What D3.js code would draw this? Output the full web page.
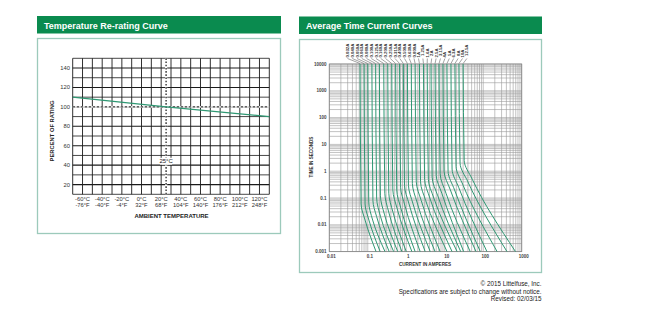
<!DOCTYPE html>
<html><head><meta charset="utf-8">
<script src="https://cdn.jsdelivr.net/npm/d3@7"></script>
<style>
html,body{margin:0;padding:0;background:#fff;}
svg{display:block;}
text{font-family:"Liberation Sans",Arial,sans-serif;}
.nar{font-family:"Liberation Sans Narrow","Arial Narrow","Liberation Sans",sans-serif;}
</style></head>
<body>
<svg id="c" width="654" height="325"></svg>
<script>
// ---------- Data: Temperature re-rating curve ----------
const tempTicks = [-60,-40,-20,0,20,40,60,80,100,120];
const tempCLabels = ["-60°C","-40°C","-20°C","0°C","20°C","40°C","60°C","80°C","100°C","120°C"];
const tempFLabels = ["-76°F","-40°F","-4°F","32°F","68°F","104°F","140°F","176°F","212°F","248°F"];
const pctTicks = [20,40,60,80,100,120,140];
const rerateTemp = [-70, 25, 130];
const reratePct  = [110, 100, 90];

// ---------- Data: Average time current curves ----------
const ratingLabels = ["0.032A","0.040A","0.050A","0.063A","0.080A","0.100A","0.125A","0.160A","0.200A","0.250A","0.315A","0.400A","0.500A","0.630A","0.800A",
  "1A","1.25A","1.6A","2A","2.5A","3.15A","4A","5A","6.3A","8A","10A","12.5A"];
// current (A) at 10000 s
const topCurrent  = [0.063,0.08,0.1,0.128,0.16,0.2,0.26,0.33,0.42,0.53,0.67,0.84,1.07,1.35,1.7,2.2,2.8,3.5,4.4,5.6,7.1,9,11.4,14.5,18.4,23.4,30];
// start of knee: time (s) and current (A)
const kneeTime    = [0.06,0.06,0.07,0.08,0.1,0.12,0.15,0.15,0.2,0.2,0.25,0.3,0.3,0.35,0.4,0.4,0.5,0.5,0.6,0.7,0.8,1,1,1.2,1.5,2,2.5];
const kneeCurrent = [0.067,0.085,0.106,0.136,0.17,0.213,0.277,0.352,0.448,0.565,0.715,0.9,1.14,1.44,1.82,2.35,3.0,3.75,4.7,6.0,7.6,9.6,12.2,15.5,19.7,25,32];
// end of knee: time (s) and current (A)
const bendTime    = [0.015,0.015,0.015,0.02,0.02,0.025,0.03,0.03,0.04,0.04,0.05,0.06,0.06,0.07,0.08,0.08,0.1,0.1,0.12,0.15,0.15,0.2,0.2,0.25,0.3,0.4,0.5];
const bendCurrent = [0.085,0.107,0.134,0.17,0.215,0.27,0.35,0.45,0.58,0.73,0.93,1.18,1.5,1.9,2.45,3.2,4.1,5.2,6.6,8.4,10.8,14,18,23,30,40,52];
// current (A) at 0.001 s
const endCurrent  = [0.164,0.21,0.28,0.36,0.47,0.6,0.77,1.0,1.4,1.7,2.3,3.1,4.2,5.6,7.6,11.5,15.5,21,26,31,46,65,84,125,230,415,690];
const yTimeTicks = [10000,1000,100,10,1,0.1,0.01,0.001];
const yTimeLabels = ["10000","1000","100","10","1","0.1","0.01","0.001"];
const xCurTicks = [0.01,0.1,1,10,100,1000];
const xCurLabels = ["0.01","0.1","1","10","100","1000"];

const footer = ["© 2015 Littelfuse, Inc.","Specifications are subject to change without notice.","Revised: 02/03/15"];

// ---------- Drawing ----------
const svg = d3.select("#c");
const GREEN = "#0a8b4f", BORDER = "#9ccabb", CURVE = "#2f9873";

function panel(x, y, w, title){
  svg.append("rect").attr("x",x).attr("y",y).attr("width",w).attr("height",17.5).attr("fill",GREEN);
  svg.append("text").attr("x",x+7).attr("y",y+12.5).attr("fill","#fff")
    .attr("font-size","9px").attr("font-weight","bold").text(title);
}
panel(37,16,244,"Temperature Re-rating Curve");
panel(299,16.5,243,"Average Time Current Curves");
svg.append("rect").attr("x",37.5).attr("y",38.5).attr("width",243).attr("height",195)
  .attr("fill","none").attr("stroke",BORDER).attr("stroke-width",1.3);
svg.append("rect").attr("x",299.5).attr("y",39.5).attr("width",242).attr("height",233)
  .attr("fill","none").attr("stroke",BORDER).attr("stroke-width",1.3);

// ----- Left chart -----
const xT = d3.scaleLinear().domain([-70,130]).range([72.7,269.3]);
const yP = d3.scaleLinear().domain([10,150]).range([194.3,58.3]);
const gL = svg.append("g");
const vGrid = d3.range(-70,131,10), hGrid = d3.range(10,151,10);
gL.selectAll(".vg").data(vGrid).join("line")
  .attr("x1",d=>xT(d)).attr("x2",d=>xT(d)).attr("y1",yP(10)).attr("y2",yP(150))
  .attr("stroke","#1a1a1a").attr("stroke-width",0.9);
gL.selectAll(".hg").data(hGrid).join("line")
  .attr("y1",d=>yP(d)).attr("y2",d=>yP(d)).attr("x1",xT(-70)).attr("x2",xT(130))
  .attr("stroke","#1a1a1a").attr("stroke-width",d=>d%20===0?1.1:0.8);
// dashed reference lines
gL.append("line").attr("x1",xT(-70)).attr("x2",xT(130)).attr("y1",yP(100)).attr("y2",yP(100))
  .attr("stroke","#fff").attr("stroke-width",1.6);
gL.append("line").attr("x1",xT(-70)).attr("x2",xT(130)).attr("y1",yP(100)).attr("y2",yP(100))
  .attr("stroke","#111").attr("stroke-width",1).attr("stroke-dasharray","2.5,1.5");
gL.append("line").attr("x1",xT(25)).attr("x2",xT(25)).attr("y1",yP(10)).attr("y2",yP(150))
  .attr("stroke","#fff").attr("stroke-width",2.2);
gL.append("line").attr("x1",xT(25)).attr("x2",xT(25)).attr("y1",yP(10)).attr("y2",yP(150))
  .attr("stroke","#111").attr("stroke-width",1.2).attr("stroke-dasharray","1.6,1.6");
// derating line
const rer = rerateTemp.map((t,i)=>[t,reratePct[i]]);
gL.append("path").datum(rer).attr("fill","none").attr("stroke",CURVE).attr("stroke-width",1.2)
  .attr("d",d3.line().x(d=>xT(d[0])).y(d=>yP(d[1])));
// 25°C label
gL.append("rect").attr("x",xT(25)-6).attr("y",yP(44)-3.5).attr("width",12).attr("height",7).attr("fill","#fff");
gL.append("text").attr("class","nar").attr("x",xT(25)).attr("y",yP(44)).attr("dy","0.35em")
  .attr("text-anchor","middle").attr("font-size","6px").attr("fill","#222").text("25°C");
// tick labels
gL.selectAll(".yl").data(pctTicks).join("text").attr("class","nar")
  .attr("x",70).attr("y",d=>yP(d)).attr("dy","0.35em").attr("text-anchor","end")
  .attr("font-size","5.8px").attr("fill","#333").text(d=>d);
gL.selectAll(".xc").data(tempTicks).join("text").attr("class","nar")
  .attr("x",d=>xT(d)).attr("y",200.5).attr("text-anchor","middle")
  .attr("font-size","5.8px").attr("fill","#333").text((d,i)=>tempCLabels[i]);
gL.selectAll(".xf").data(tempTicks).join("text").attr("class","nar")
  .attr("x",d=>xT(d)).attr("y",206.5).attr("text-anchor","middle")
  .attr("font-size","5.8px").attr("fill","#333").text((d,i)=>tempFLabels[i]);
gL.append("text").attr("transform","translate(54,131) rotate(-90)").attr("text-anchor","middle")
  .attr("font-size","5.8px").attr("font-weight","bold").attr("fill","#222").text("PERCENT OF RATING");
gL.append("text").attr("x",171.5).attr("y",217.5).attr("text-anchor","middle")
  .attr("font-size","6px").attr("font-weight","bold").attr("fill","#222").text("AMBIENT TEMPERATURE");

// ----- Right chart -----
const xI = d3.scaleLog().domain([0.01,1000]).range([329.3,521.7]);
const yS = d3.scaleLog().domain([0.001,10000]).range([251.6,64]);
const gR = svg.append("g");
const xMinor = [], yMinor = [];
for (let e=-2;e<3;e++) for (let k=1;k<10;k++) xMinor.push(k*Math.pow(10,e));
xMinor.push(1000);
for (let e=-3;e<4;e++) for (let k=1;k<10;k++) yMinor.push(k*Math.pow(10,e));
yMinor.push(10000);
gR.selectAll(".gx").data(xMinor).join("line")
  .attr("x1",d=>xI(d)).attr("x2",d=>xI(d)).attr("y1",yS.range()[0]).attr("y2",yS.range()[1])
  .attr("stroke","#9a9a9a").attr("stroke-width",0.6);
gR.selectAll(".gy").data(yMinor).join("line")
  .attr("y1",d=>yS(d)).attr("y2",d=>yS(d)).attr("x1",xI.range()[0]).attr("x2",xI.range()[1])
  .attr("stroke","#9a9a9a").attr("stroke-width",0.6);
gR.append("rect").attr("x",329.3).attr("y",64).attr("width",521.7-329.3).attr("height",251.6-64)
  .attr("fill","none").attr("stroke","#888").attr("stroke-width",0.8);
// curves
const line = d3.line().x(d=>xI(d[0])).y(d=>yS(d[1])).curve(d3.curveMonotoneY);
const curves = ratingLabels.map((r,i)=>[
  [topCurrent[i],10000],[kneeCurrent[i],kneeTime[i]],[bendCurrent[i],bendTime[i]],[endCurrent[i],0.001]
]);
gR.selectAll(".cv").data(curves).join("path").attr("fill","none")
  .attr("stroke",CURVE).attr("stroke-width",1).attr("d",line);
// rating labels on top
const labelX = (i)=> i<15 ? 347.5 + i*4.75 : 418.5 + (i-15)*4.4;
gR.selectAll(".ld").data(ratingLabels).join("line")
  .attr("x1",(d,i)=>labelX(i)).attr("y1",58.5).attr("x2",(d,i)=>xI(topCurrent[i])).attr("y2",63.5)
  .attr("stroke","#333").attr("stroke-width",0.45);
gR.selectAll(".lt").data(ratingLabels).join("text")
  .attr("transform",(d,i)=>`translate(${labelX(i)+1.5},${i<15?57.5:(i%2?57.5:56)}) rotate(-90)`)
  .attr("font-size","4.3px").attr("font-weight","bold").attr("fill","#333").text(d=>d);
// tick labels
gR.selectAll(".ty").data(yTimeTicks).join("text").attr("x",326.5).attr("y",d=>yS(d)).attr("dy","0.35em")
  .attr("text-anchor","end").attr("font-size","4.5px").attr("font-weight","bold").attr("fill","#444")
  .text((d,i)=>yTimeLabels[i]);
gR.selectAll(".tx").data(xCurTicks).join("text").attr("x",d=>xI(d)+2).attr("y",257.5)
  .attr("text-anchor","middle").attr("font-size","4.5px").attr("font-weight","bold").attr("fill","#444")
  .text((d,i)=>xCurLabels[i]);
gR.append("text").attr("transform","translate(313,157) rotate(-90)").attr("text-anchor","middle")
  .attr("font-size","4.6px").attr("font-weight","bold").attr("fill","#333").text("TIME IN SECONDS");
gR.append("text").attr("x",425).attr("y",266).attr("text-anchor","middle")
  .attr("font-size","4.6px").attr("font-weight","bold").attr("fill","#333").text("CURRENT IN AMPERES");

// footer
svg.selectAll(".ft").data(footer).join("text").attr("class","nar")
  .attr("x",541.5).attr("y",(d,i)=>286+i*7.7).attr("text-anchor","end")
  .attr("font-size","6.3px").attr("fill","#222").text(d=>d);
</script>
</body></html>
